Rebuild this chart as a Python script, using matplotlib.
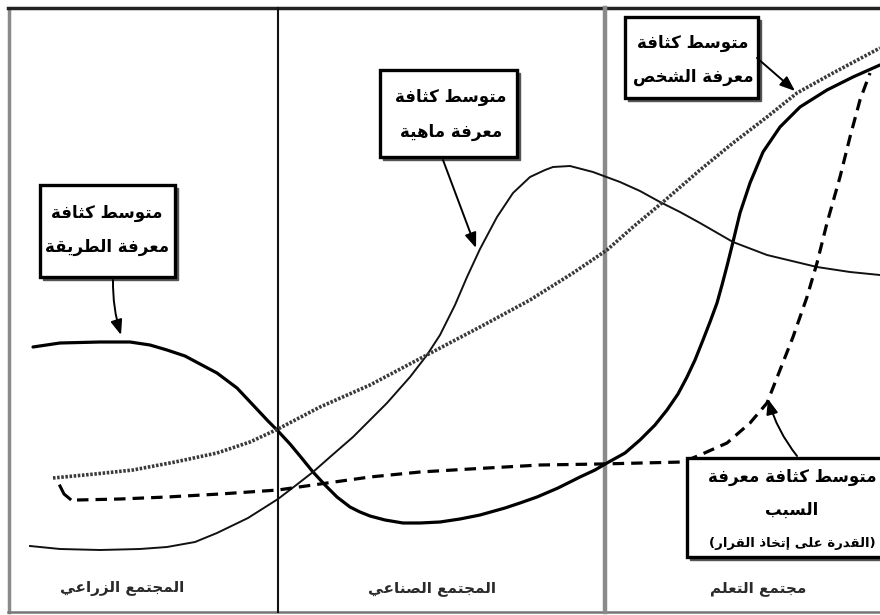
import matplotlib
matplotlib.use("Agg")
import matplotlib.pyplot as plt
from matplotlib.patches import Rectangle

# ---------------- Arabic shaping helper (matplotlib has no complex shaping) -------------
FORMS = {
    'ا': (0xFE8D, 0xFE8E, None, None), 'إ': (0xFE87, 0xFE88, None, None),
    'ب': (0xFE8F, 0xFE90, 0xFE91, 0xFE92), 'ة': (0xFE93, 0xFE94, None, None),
    'ت': (0xFE95, 0xFE96, 0xFE97, 0xFE98), 'ث': (0xFE99, 0xFE9A, 0xFE9B, 0xFE9C),
    'ج': (0xFE9D, 0xFE9E, 0xFE9F, 0xFEA0), 'خ': (0xFEA5, 0xFEA6, 0xFEA7, 0xFEA8),
    'د': (0xFEA9, 0xFEAA, None, None), 'ذ': (0xFEAB, 0xFEAC, None, None),
    'ر': (0xFEAD, 0xFEAE, None, None), 'ز': (0xFEAF, 0xFEB0, None, None),
    'س': (0xFEB1, 0xFEB2, 0xFEB3, 0xFEB4), 'ش': (0xFEB5, 0xFEB6, 0xFEB7, 0xFEB8),
    'ص': (0xFEB9, 0xFEBA, 0xFEBB, 0xFEBC), 'ط': (0xFEC1, 0xFEC2, 0xFEC3, 0xFEC4),
    'ع': (0xFEC9, 0xFECA, 0xFECB, 0xFECC), 'ف': (0xFED1, 0xFED2, 0xFED3, 0xFED4),
    'ق': (0xFED5, 0xFED6, 0xFED7, 0xFED8), 'ك': (0xFED9, 0xFEDA, 0xFEDB, 0xFEDC),
    'ل': (0xFEDD, 0xFEDE, 0xFEDF, 0xFEE0), 'م': (0xFEE1, 0xFEE2, 0xFEE3, 0xFEE4),
    'ن': (0xFEE5, 0xFEE6, 0xFEE7, 0xFEE8), 'ه': (0xFEE9, 0xFEEA, 0xFEEB, 0xFEEC),
    'و': (0xFEED, 0xFEEE, None, None), 'ى': (0xFEEF, 0xFEF0, None, None),
    'ي': (0xFEF1, 0xFEF2, 0xFEF3, 0xFEF4),
}
LAM_ALEF = {'ا': (0xFEFB, 0xFEFC), 'إ': (0xFEF9, 0xFEFA)}
MIRROR = {'(': ')', ')': '('}


def ar(text):
    chars = list(text)
    n = len(chars)
    out = []
    fwd = lambda c: c in FORMS and FORMS[c][2] is not None
    i = 0
    while i < n:
        c = chars[i]
        if c not in FORMS:
            out.append(MIRROR.get(c, c))
            i += 1
            continue
        jp = i > 0 and fwd(chars[i - 1])
        if c == 'ل' and i + 1 < n and chars[i + 1] in LAM_ALEF:
            out.append(chr(LAM_ALEF[chars[i + 1]][1 if jp else 0]))
            i += 2
            continue
        jn = fwd(c) and i + 1 < n and chars[i + 1] in FORMS
        f = FORMS[c]
        cp = f[3] if (jp and jn) else f[1] if jp else f[2] if jn else f[0]
        out.append(chr(cp))
        i += 1
    return ''.join(reversed(out))


# ---------------- data (x = time axis, level = knowledge density) ----
way_x = [33, 60, 100, 130, 150, 167, 185, 200, 217, 237, 253, 268, 278, 290, 300, 313, 325,
         337, 350, 360, 370, 385, 403, 420, 440, 460, 480, 505, 520, 537, 558, 580, 595,
         607, 625, 640, 655, 667, 678, 687, 695, 703, 710, 717, 722, 727, 732, 740, 750, 763,
         780, 800, 827, 853, 880]
way_y = [347, 343, 342, 342, 345, 350, 356, 364, 373, 388, 405, 421, 431, 444, 456, 472, 485,
         497, 507, 512, 516, 520, 523, 523, 522, 519, 515, 508, 503, 497, 488, 477, 470,
         463, 453, 440, 425, 410, 394, 377, 360, 340, 322, 303, 285, 266, 246, 213, 183, 152,
         127, 107, 90, 77, 65]

what_x = [30, 60, 100, 140, 167, 195, 217, 248, 278, 295, 313, 330, 353, 370, 387, 410, 427,
          440, 455, 467, 480, 497, 513, 530, 545, 553, 570, 593, 620, 640, 660, 680, 700, 733,
          767, 817, 850, 880]
what_y = [546, 549, 550, 549, 547, 542, 533, 518, 499, 486, 472, 457, 437, 420, 403, 377, 355,
          335, 305, 277, 249, 217, 193, 177, 170, 167, 166, 172, 182, 191, 202, 212, 223, 242,
          255, 267, 272, 275]

who_x = [53, 95, 133, 175, 217, 250, 278, 320, 370, 423, 480, 530, 573, 607, 633, 663,
         700, 733, 767, 797, 833, 880]
who_y = [478, 474, 470, 462, 453, 442, 429, 407, 385, 357, 327, 300, 273, 250, 227, 202,
         170, 143, 117, 93, 73, 48]

why_x = [77, 120, 167, 220, 278, 320, 370, 420, 470, 540, 600, 683, 700, 727, 750, 767, 780,
         793, 807, 817, 827, 840, 850, 860, 870]
why_y = [500, 499, 497, 494, 490, 484, 477, 472, 469, 465, 464, 462, 455, 443, 423, 403, 370,
         337, 297, 263, 223, 177, 137, 100, 73]

H = 615
lvl = lambda ys: [H - v for v in ys]

eras = ['المجتمع الزراعي', 'المجتمع الصناعي', 'مجتمع التعلم']
labels = {
    'way': ['متوسط كثافة', 'معرفة الطريقة'],
    'what': ['متوسط كثافة', 'معرفة ماهية'],
    'who': ['متوسط كثافة', 'معرفة الشخص'],
    'why': ['متوسط كثافة معرفة', 'السبب', '(القدرة على إتخاذ القرار)'],
}

# ---------------- figure ----------------
fig = plt.figure(figsize=(8.8, 6.15), dpi=100)
ax = fig.add_axes([0, 0, 1, 1])
ax.set_xlim(0, 880)
ax.set_ylim(0, H)
ax.axis('off')

FONT = ['DejaVu Sans']

# frame and era dividers
ax.plot([9, 9], [H - 9, H - 612], color='#8a8a8a', lw=2.5, zorder=1)
ax.plot([8, 880], [H - 8, H - 8], color='#222222', lw=2.5, zorder=1)
ax.plot([8, 880], [H - 612, H - 612], color='#777777', lw=1.8, zorder=1)
ax.plot([278, 278], [H - 8, H - 612], color='#111111', lw=1.5, zorder=1)
ax.plot([605, 605], [H - 8, H - 612], color='#8a8a8a', lw=3.2, zorder=1)

# curves
ax.plot(way_x, lvl(way_y), color='black', lw=2.3, solid_capstyle='round',
        solid_joinstyle='round', zorder=3)
ax.plot(what_x, lvl(what_y), color='#111111', lw=1.4, solid_joinstyle='round', zorder=3)
ax.plot(who_x, lvl(who_y), color='#3a3a3a', lw=2.6, linestyle=(0, (0.7, 0.45)), zorder=3)
ax.plot(why_x, lvl(why_y), color='black', lw=2.3, linestyle=(0, (3.6, 2.2)), zorder=3)
ax.plot([60, 64, 70], lvl([486, 494, 499]), color='black', lw=2.2, zorder=3)


def box(x0, y0, x1, y1, lines, cx, ys, sizes):
    ax.add_patch(Rectangle((x0 + 3, H - y1 - 3), x1 - x0, y1 - y0, facecolor='#555555',
                           edgecolor='#555555', lw=1.0, zorder=4))
    ax.add_patch(Rectangle((x0, H - y1), x1 - x0, y1 - y0, facecolor='white',
                           edgecolor='black', lw=2.4, zorder=5))
    for t, y, s in zip(lines, ys, sizes):
        ax.text(cx, H - y, ar(t), ha='center', va='center', fontsize=s,
                fontweight='bold', family=FONT, color='black', zorder=6)


def arrow(x0, y0, x1, y1, rad=0.0):
    ax.annotate('', xy=(x1, H - y1), xytext=(x0, H - y0),
                arrowprops=dict(arrowstyle='-|>,head_length=0.9,head_width=0.35', color='black',
                                lw=1.4, shrinkA=0, shrinkB=0,
                                connectionstyle=f'arc3,rad={rad}'), zorder=7)


box(40, 185, 175, 277, labels['way'], 107, [213, 247], [12, 12])
box(380, 70, 517, 157, labels['what'], 451, [97, 132], [12, 12])
box(625, 17, 758, 98, labels['who'], 693, [43, 77], [12, 12])
box(687, 458, 900, 557, labels['why'], 792, [477, 510, 543], [12, 12, 9.5])

arrow(113, 280, 121, 335, rad=0.08)
arrow(443, 160, 476, 248)
arrow(757, 58, 795, 91)
arrow(797, 456, 768, 399, rad=-0.1)

for t, cx in zip(eras, [122, 432, 758]):
    ax.text(cx, H - 588, ar(t), ha='center', va='center', fontsize=11,
            fontweight='bold', family=FONT, color='#2a2a2a', zorder=6)

fig.savefig('out.png', dpi=100)
